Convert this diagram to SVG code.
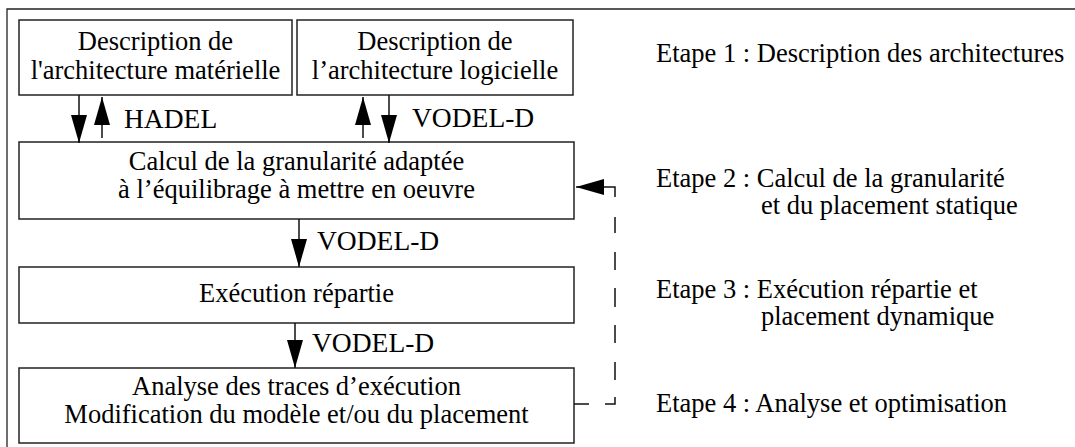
<svg xmlns="http://www.w3.org/2000/svg" width="1075" height="447" viewBox="0 0 1075 447">
<style>
.box{fill:#fff;stroke:#222;stroke-width:1.5}
.t{font-family:"Liberation Serif","Times New Roman",serif;font-size:26.5px;fill:#000}
.c{text-anchor:middle}
.lbl{font-family:"Liberation Serif","Times New Roman",serif;font-size:27.5px;fill:#000}
.ln{fill:none;stroke:#111;stroke-width:1.5}
</style>
<defs>
<marker id="ah" markerUnits="userSpaceOnUse" markerWidth="28" markerHeight="16" refX="28" refY="8" orient="auto">
<path d="M0,0 L28,8 L0,16 z" fill="#000"/>
</marker>
</defs>
<rect width="1075" height="447" fill="#fff"/>
<path d="M7,447 V9 H1075" fill="none" stroke="#222" stroke-width="1.3"/>

<g id="n1"><rect class="box" x="19" y="20" width="273" height="75"/>
<text class="t c" x="155.5" y="50">Description de</text>
<text class="t c" x="155.5" y="79">l'architecture matérielle</text></g>

<g id="n2"><rect class="box" x="297" y="20" width="276" height="75"/>
<text class="t c" x="435" y="50">Description de</text>
<text class="t c" x="435" y="79">l’architecture logicielle</text></g>

<g id="n3"><rect class="box" x="19" y="142" width="555" height="77"/>
<text class="t c" x="296.5" y="170">Calcul de la granularité adaptée</text>
<text class="t c" x="296.5" y="198">à l’équilibrage à mettre en oeuvre</text></g>

<g id="n4"><rect class="box" x="19" y="267" width="555" height="56"/>
<text class="t c" x="296.5" y="302">Exécution répartie</text></g>

<g id="n5"><rect class="box" x="19" y="368" width="555" height="75"/>
<text class="t c" x="296.5" y="395">Analyse des traces d’exécution</text>
<text class="t c" x="296.5" y="423">Modification du modèle et/ou du placement</text></g>

<g id="steps">
<text class="t" x="656" y="62">Etape 1 : Description des architectures</text>
<text class="t" x="656" y="187">Etape 2 : Calcul de la granularité</text>
<text class="t" x="761" y="214">et du placement statique</text>
<text class="t" x="656" y="298">Etape 3 : Exécution répartie et</text>
<text class="t" x="761" y="325">placement dynamique</text>
<text class="t" x="656" y="412">Etape 4 : Analyse et optimisation</text>
</g>

<g id="connectors">
<line class="ln" x1="79" y1="95" x2="79" y2="143" marker-end="url(#ah)"/>
<line class="ln" x1="102" y1="138" x2="102" y2="97" marker-end="url(#ah)"/>
<line class="ln" x1="363" y1="138" x2="363" y2="97" marker-end="url(#ah)"/>
<line class="ln" x1="389" y1="95" x2="389" y2="143" marker-end="url(#ah)"/>
<line class="ln" x1="299" y1="219" x2="299" y2="267" marker-end="url(#ah)"/>
<line class="ln" x1="295" y1="323" x2="295" y2="368" marker-end="url(#ah)"/>
<path class="ln" d="M574,404 H589 M605,404 H615 V397 M615,380 V362 M615,343 V325 M615,307 V288 M615,270 V252 M615,233 V217 M615,197 V187 H576" marker-end="url(#ah)"/>
<text class="lbl" x="124" y="128">HADEL</text>
<text class="lbl" x="412" y="127">VODEL-D</text>
<text class="lbl" x="317" y="250">VODEL-D</text>
<text class="lbl" x="312" y="352">VODEL-D</text>
</g>
</svg>
